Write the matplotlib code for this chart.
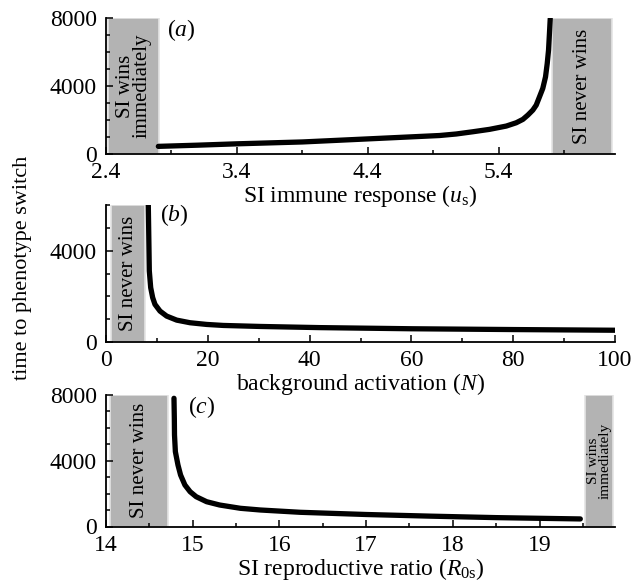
import matplotlib

matplotlib.use('Agg')
import matplotlib.pyplot as plt
from matplotlib.ticker import MultipleLocator, FixedLocator

plt.rcParams['font.family'] = ['Liberation Serif', 'DejaVu Serif']
plt.rcParams['mathtext.fontset'] = 'custom'
plt.rcParams['mathtext.rm'] = 'Liberation Serif'
plt.rcParams['mathtext.it'] = 'Liberation Serif:italic'

# (a) SI immune response
us = [2.80, 3.10, 3.40, 3.90, 4.40, 4.95, 5.077, 5.204, 5.331, 5.459, 5.535, 5.586, 5.624,
      5.662, 5.688, 5.713, 5.738, 5.759, 5.772, 5.782, 5.789, 5.795]
time_a = [450, 520, 600, 710, 890, 1090, 1180, 1312, 1453, 1647, 1841, 2041, 2294,
          2588, 2882, 3371, 3865, 4547, 5335, 6118, 7100, 7980]

# (b) background activation
N = [8.31, 8.38, 8.45, 8.51, 8.78, 9.17, 9.62, 10.61, 11.92, 13.89, 16.5, 19.78, 23.05,
     30.26, 42, 60, 80, 100]
time_b = [6000, 5020, 3991, 3112, 2382, 1943, 1648, 1354, 1134, 958, 844, 769, 725,
          681, 630, 580, 545, 515]

# (c) SI reproductive ratio
R0s = [14.784, 14.788, 14.79, 14.80, 14.83, 14.86, 14.91, 14.97, 15.04, 15.16, 15.31, 15.55,
       15.78, 16.24, 17.0, 17.74, 18.5, 19.47]
time_c = [7800, 6582, 5567, 4551, 3741, 3133, 2525, 2117, 1813, 1509, 1308, 1107,
          1004, 864, 730, 630, 540, 460]

box_grey = '#b3b3b3'
fs = 17
box_fs = 15


def style_axis(ax):
    ax.set_facecolor('none')
    ax.spines['top'].set_visible(False)
    ax.spines['right'].set_visible(False)
    ax.spines['left'].set_linewidth(1.3)
    ax.spines['bottom'].set_linewidth(1.3)
    ax.tick_params(which='both', direction='in', labelsize=fs, width=1.1)
    ax.tick_params(axis='x', which='both', pad=6)
    ax.tick_params(axis='y', which='both', pad=6.5)
    ax.tick_params(which='major', length=5)
    ax.tick_params(which='minor', length=3)


def grey_box(ax, x0, x1, y1, text, size=box_fs):
    ax.axvspan(x0, x1, ymin=0, ymax=1, facecolor=box_grey, edgecolor='#e4e4e4', lw=1.2, zorder=1)
    ax.text((x0 + x1) / 2, y1 / 2, text, rotation=90, ha='center', va='center',
            fontsize=size, linespacing=0.85, zorder=2)


fig = plt.figure(figsize=(6.35, 5.88), dpi=100)
W, H = 635, 588

# Panel a
ax_a = fig.add_axes([106 / W, 1 - 154 / H, 509 / W, 135.7 / H])
ax_a.plot(us, time_a, color='black', lw=3.8, solid_capstyle='round', zorder=3)
grey_box(ax_a, 2.415, 2.805, 8000, 'SI wins\nimmediately')
grey_box(ax_a, 5.812, 6.27, 8000, 'SI never wins')
ax_a.set_xlim(2.4, 6.29)
ax_a.set_ylim(0, 8000)
ax_a.xaxis.set_major_locator(FixedLocator([2.4, 3.4, 4.4, 5.4]))
ax_a.xaxis.set_minor_locator(FixedLocator([2.9, 3.9, 4.9, 5.9]))
ax_a.yaxis.set_major_locator(MultipleLocator(4000))
ax_a.yaxis.set_minor_locator(MultipleLocator(1000))
ax_a.set_xlabel(r'SI immune response ($u_{\mathrm{s}}$)', fontsize=fs, labelpad=0)
ax_a.text(0.12, 0.914, r'($a$)', transform=ax_a.transAxes, fontsize=fs, va='center')
style_axis(ax_a)

# Panel b
ax_b = fig.add_axes([106 / W, 1 - 342 / H, 509 / W, 137 / H])
ax_b.plot(N, time_b, color='black', lw=3.8, solid_capstyle='round', zorder=3)
grey_box(ax_b, 1.0, 7.7, 6000, 'SI never wins')
ax_b.set_xlim(0, 100)
ax_b.set_ylim(0, 6000)
ax_b.xaxis.set_major_locator(MultipleLocator(20))
ax_b.xaxis.set_minor_locator(MultipleLocator(10))
ax_b.yaxis.set_major_locator(MultipleLocator(4000))
ax_b.yaxis.set_minor_locator(MultipleLocator(1000))
ax_b.set_xlabel(r'background activation ($N$)', fontsize=fs, labelpad=0)
ax_b.text(0.106, 0.927, r'($b$)', transform=ax_b.transAxes, fontsize=fs, va='center')
style_axis(ax_b)

# Panel c
ax_c = fig.add_axes([106 / W, 1 - 526.5 / H, 509 / W, 131.5 / H])
ax_c.plot(R0s, time_c, color='black', lw=3.8, solid_capstyle='round', zorder=3)
grey_box(ax_c, 14.05, 14.72, 8000, 'SI never wins')
grey_box(ax_c, 19.52, 19.85, 8000, 'SI wins\nimmediately', size=11)
ax_c.set_xlim(14, 19.87)
ax_c.set_ylim(0, 8000)
ax_c.xaxis.set_major_locator(MultipleLocator(1))
ax_c.xaxis.set_minor_locator(MultipleLocator(0.5))
ax_c.yaxis.set_major_locator(MultipleLocator(4000))
ax_c.yaxis.set_minor_locator(MultipleLocator(1000))
ax_c.set_xlabel(r'SI reproductive ratio ($R_{0\mathrm{s}}$)', fontsize=fs, labelpad=0)
ax_c.text(0.161, 0.909, r'($c$)', transform=ax_c.transAxes, fontsize=fs, va='center')
style_axis(ax_c)

fig.text(23 / W, 1 - 268 / H, 'time to phenotype switch', rotation=90,
         ha='center', va='center', fontsize=16)

fig.savefig('out.png', dpi=100)
